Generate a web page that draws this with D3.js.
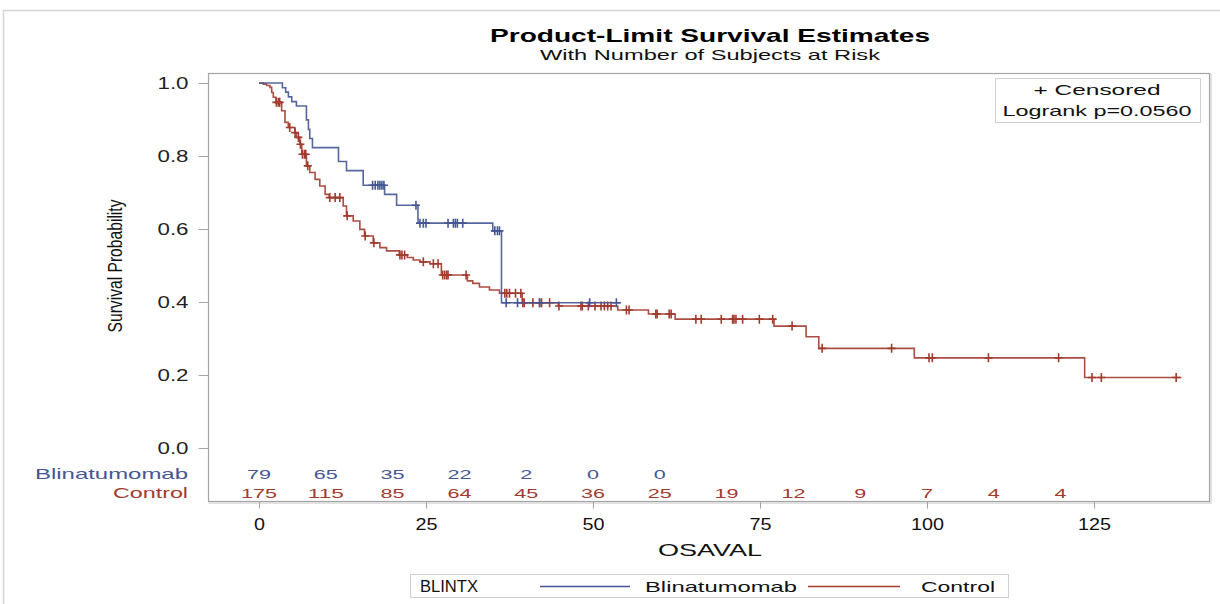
<!DOCTYPE html>
<html><head><meta charset="utf-8">
<script src="https://cdn.jsdelivr.net/npm/d3@7"></script>
<style>body{margin:0;background:#fff}svg{display:block}text{font-family:"Liberation Sans",Arial,sans-serif}</style>
</head><body>
<script>
// ---- data ----
const blinStepTimes = [0,3.5,4.0,4.4,4.9,5.6,7.1,7.4,7.6,8.0,11.9,13.1,15.6,18.8,20.6,23.8,35.0,36.3];
const blinStepSurv  = [1.0,0.987,0.975,0.962,0.949,0.937,0.899,0.873,0.848,0.823,0.785,0.760,0.720,0.695,0.665,0.616,0.595,0.398];
const blinEnd = 54.2;
const blinCensor = [17.0,17.4,17.8,18.1,18.4,18.7,23.5,24.1,24.6,25.0,28.3,29.1,29.4,29.7,30.5,35.3,35.7,36.0,37.0,38.7,42.0,49.5,53.5];

const ctrlStepTimes = [0,0.65,1.15,1.64,1.9,2.14,2.54,3.39,3.89,4.38,5.38,5.6,6.1,6.4,7.1,7.6,8.4,9.1,9.9,10.5,12.6,13.1,14.1,15.1,15.8,17.1,18.1,19.1,21.0,22.2,23.1,24.1,25.6,27.3,31.2,32.0,33.0,34.5,36.0,39.4,44.8,53.7,58.3,62.3,77.1,81.9,83.8,98.1,123.6];
const ctrlStepSurv  = [1.0,0.997,0.993,0.988,0.974,0.961,0.947,0.924,0.892,0.878,0.864,0.851,0.832,0.805,0.773,0.755,0.736,0.718,0.695,0.686,0.663,0.636,0.622,0.599,0.581,0.562,0.549,0.540,0.529,0.522,0.515,0.510,0.505,0.474,0.458,0.451,0.441,0.433,0.424,0.398,0.389,0.378,0.367,0.353,0.334,0.305,0.273,0.247,0.193];
const ctrlEnd = 138.1;
const ctrlCensor = [2.6,2.9,3.1,4.6,5.4,5.9,6.2,6.5,6.8,7.0,7.3,10.6,11.4,12.1,13.2,15.9,17.2,21.1,21.4,21.8,24.6,26.1,26.8,27.5,27.8,28.1,28.3,31.0,36.8,37.1,37.5,38.4,39.2,39.5,39.7,41.0,42.0,42.3,43.5,44.9,48.2,48.4,49.3,50.3,51.2,51.7,52.2,52.7,55.0,55.4,59.4,59.6,61.4,61.7,65.4,66.2,69.2,70.9,71.1,71.4,72.4,74.9,76.9,79.8,84.3,94.7,100.3,100.8,109.2,119.7,124.7,126.1,137.3];

const riskTimes = [0,10,20,30,40,50,60,70,80,90,100,110,120];
const blinRisk = [79,65,35,22,2,0,0];
const ctrlRisk = [175,115,85,64,45,36,25,19,12,9,7,4,4];
const xTicks = [0,25,50,75,100,125];
const yTicks = [0,0.2,0.4,0.6,0.8,1.0];
const groupNames = ["Blinatumomab","Control"];

const BLUE = "#445694", RED = "#A23A2E", FRAME = "#A5A5A5";

const W = 1220, H = 604;
const svg = d3.select("body").append("svg").attr("width", W).attr("height", H);
svg.append("rect").attr("width", W).attr("height", H).attr("fill", "#fff");

// outer border
svg.append("path").attr("d", "M3.5,604V10.5H1220").attr("fill", "none").attr("stroke", "#d4d4d4").attr("stroke-width", 1.5);

const x = d3.scaleLinear().domain([0,125]).range([259,1094]);
const y = d3.scaleLinear().domain([0,1]).range([448,83]);

const fL = 208.5, fT = 73.5, fR = 1209.5, fB = 501.5;

function txt(g, s, xx, yy, opts) {
  const t = g.append("text").attr("x", xx).attr("y", yy).text(s)
    .attr("font-size", opts.size || 14)
    .attr("fill", opts.fill || "#000")
    .attr("text-anchor", opts.anchor || "middle");
  if (opts.weight) t.attr("font-weight", opts.weight);
  if (opts.family) t.style("font-family", opts.family);
  if (opts.len) t.attr("textLength", opts.len).attr("lengthAdjust", "spacingAndGlyphs");
  return t;
}

// title
txt(svg, "Product-Limit Survival Estimates", 710, 42, {size: 19, weight: "bold", len: 440});
txt(svg, "With Number of Subjects at Risk", 710, 60, {size: 15, len: 340, fill: "#111"});

// frame
svg.append("rect").attr("x", fL).attr("y", fT).attr("width", fR - fL).attr("height", fB - fT)
  .attr("fill", "none").attr("stroke", FRAME).attr("stroke-width", 1.2);
svg.append("path").attr("d", `M${fR+1.5},${fT}V${fB+1.5}H${fL}`).attr("fill", "none").attr("stroke", "#d8d8d8").attr("stroke-width", 1.5);

// y axis
const yAx = svg.append("g").attr("transform", `translate(${fL},0)`)
  .call(d3.axisLeft(y).tickValues(yTicks).tickFormat(d3.format(".1f")).tickSize(10).tickPadding(10));
yAx.select(".domain").remove();
yAx.selectAll(".tick line").attr("stroke", FRAME);
yAx.selectAll(".tick text").attr("font-size", 16).attr("fill", "#222").style("font-family", '"Liberation Sans",Arial,sans-serif')
  .attr("textLength", 31).attr("lengthAdjust", "spacingAndGlyphs").attr("dy", "0.36em");

// x axis
const xAx = svg.append("g").attr("transform", `translate(0,${fB})`)
  .call(d3.axisBottom(x).tickValues(xTicks).tickFormat(d3.format("d")).tickSize(7).tickPadding(10));
xAx.select(".domain").remove();
xAx.selectAll(".tick line").attr("stroke", FRAME);
xAx.selectAll(".tick text").attr("font-size", 16).attr("fill", "#111").style("font-family", '"Liberation Sans",Arial,sans-serif')
  .each(function(d){ const n = String(d).length; d3.select(this).attr("textLength", n * 11).attr("lengthAdjust", "spacingAndGlyphs"); });

// axis labels
txt(svg, "OSAVAL", 710, 556, {size: 17, len: 104, fill: "#111"});
const yl = svg.append("g").attr("transform", "translate(122,266) rotate(-90)");
txt(yl, "Survival Probability", 0, 0, {size: 21, len: 133, fill: "#111", family: '"Liberation Sans Narrow","Liberation Sans",Arial,sans-serif'});

// curves
function stepPts(times, surv, end) {
  const p = times.map((t, i) => [t, surv[i]]);
  p.push([end, surv[surv.length - 1]]);
  return p;
}
function survAt(times, surv, t) {
  const i = d3.bisectRight(times, t) - 1;
  return surv[Math.max(0, i)];
}
const line = d3.line().x(d => x(d[0])).y(d => y(d[1])).curve(d3.curveStepAfter);
const series = [
  {times: ctrlStepTimes, surv: ctrlStepSurv, end: ctrlEnd, cens: ctrlCensor, col: RED},
  {times: blinStepTimes, surv: blinStepSurv, end: blinEnd, cens: blinCensor, col: BLUE}
];
series.forEach(s => {
  svg.append("path").datum(stepPts(s.times, s.surv, s.end)).attr("d", line)
    .attr("fill", "none").attr("stroke", s.col).attr("stroke-width", 1.6).attr("opacity", 0.9);
  const cg = svg.append("g").attr("stroke", s.col).attr("stroke-width", 1.6);
  s.cens.forEach(t => {
    const cx = x(t), cy = y(survAt(s.times, s.surv, t));
    cg.append("path").attr("d", `M${cx},${cy-4.5}V${cy+4.5}M${cx-4},${cy}H${cx+4}`);
  });
});

// at-risk table
txt(svg, groupNames[0], 188, 479, {size: 15, anchor: "end", fill: BLUE, len: 153});
txt(svg, groupNames[1], 188, 498, {size: 15, anchor: "end", fill: RED, len: 75});
blinRisk.forEach((v, i) => {
  const s = String(v);
  txt(svg, s, x(riskTimes[i]), 479, {size: 13, fill: BLUE, len: s.length * 12});
});
ctrlRisk.forEach((v, i) => {
  const s = String(v);
  txt(svg, s, x(riskTimes[i]), 498, {size: 13, fill: RED, len: s.length * 12});
});

// inset box
svg.append("rect").attr("x", 995.5).attr("y", 78.5).attr("width", 205).attr("height", 44)
  .attr("fill", "#fff").attr("stroke", "#cfcfcf");
txt(svg, "+ Censored", 1097, 95, {size: 15, len: 127, fill: "#111"});
txt(svg, "Logrank p=0.0560", 1097, 116, {size: 15, len: 189, fill: "#111"});

// bottom legend
svg.append("rect").attr("x", 410.5).attr("y", 574.5).attr("width", 598).attr("height", 23)
  .attr("fill", "#fff").attr("stroke", "#cfcfcf");
txt(svg, "BLINTX", 420, 592, {size: 17, anchor: "start", len: 58, fill: "#111"});
svg.append("line").attr("x1", 540).attr("x2", 630).attr("y1", 586.5).attr("y2", 586.5).attr("stroke", BLUE).attr("stroke-width", 1.3);
txt(svg, groupNames[0], 645, 592, {size: 15, anchor: "start", len: 152, fill: "#111"});
svg.append("line").attr("x1", 808).attr("x2", 900).attr("y1", 586.5).attr("y2", 586.5).attr("stroke", RED).attr("stroke-width", 1.3);
txt(svg, groupNames[1], 921, 592, {size: 15, anchor: "start", len: 74, fill: "#111"});
</script>
</body></html>
